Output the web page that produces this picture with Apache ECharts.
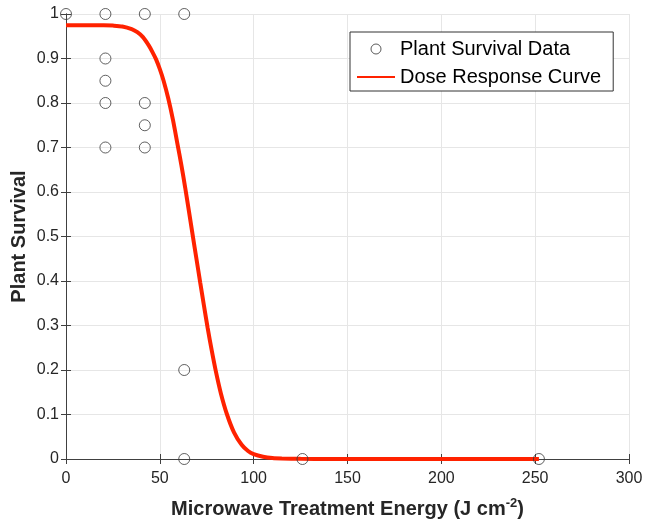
<!DOCTYPE html>
<html>
<head>
<meta charset="utf-8">
<script src="https://cdn.jsdelivr.net/npm/echarts@6/dist/echarts.min.js"></script>
<style>html,body{margin:0;padding:0;background:#fff;}#c{width:645px;height:524px;}</style>
</head>
<body>
<div id="c"></div>
<script>
// Observed plant survival data [energy, survival]
const surveyEnergy = [0, 21, 21, 21, 21, 21, 42, 42, 42, 42, 63, 63, 63, 126, 252];
const surveySurvival = [1, 1, 0.9, 0.85, 0.8, 0.7, 1, 0.8, 0.75, 0.7, 1, 0.2, 0, 0, 0];
// Dose response curve points
const curveEnergy = [0, 10, 20, 25, 30, 35, 38, 41, 44, 46, 48, 50, 52, 54.5, 57, 59.3, 61.5, 63.5, 65.5, 67.5, 69.5, 71.5, 73.5, 75.5, 77.6, 79.8, 82.5, 85.8, 89.5, 93.6, 97, 100, 105, 110, 115, 125, 140, 200, 252];
const curveSurvival = [0.975, 0.975, 0.975, 0.974, 0.972, 0.966, 0.959, 0.948, 0.930, 0.915, 0.898, 0.876, 0.850, 0.810, 0.762, 0.710, 0.660, 0.610, 0.557, 0.503, 0.450, 0.397, 0.345, 0.294, 0.245, 0.198, 0.148, 0.100, 0.060, 0.032, 0.018, 0.011, 0.005, 0.002, 0.001, 0.0003, 0, 0, 0];
const xTicks = [0, 50, 100, 150, 200, 250, 300];
const yTicks = [0, 0.1, 0.2, 0.3, 0.4, 0.5, 0.6, 0.7, 0.8, 0.9, 1];

const scatterData = surveyEnergy.map((x, i) => [x, surveySurvival[i]]);
const curveData = curveEnergy.map((x, i) => [x, curveSurvival[i]]);
const axisColor = '#262626';
const lineColor = '#404040';
const font = "'Liberation Sans', Arial, Helvetica, sans-serif";

const chart = echarts.init(document.getElementById('c'), null, {renderer: 'canvas'});
const xBase = {
  type: 'value', min: xTicks[0], max: xTicks[xTicks.length - 1], interval: 50,
  axisLine: {lineStyle: {color: lineColor, width: 1}},
  axisTick: {inside: true, length: 5, lineStyle: {color: lineColor}},
};
const yBase = {
  type: 'value', min: yTicks[0], max: yTicks[yTicks.length - 1], interval: 0.1,
  axisLine: {lineStyle: {color: lineColor, width: 1}},
  axisTick: {inside: true, length: 5, lineStyle: {color: lineColor}},
};
chart.setOption({
  animation: false,
  textStyle: {fontFamily: font},
  grid: {left: 66, right: 16, top: 14, bottom: 65, containLabel: false, outerBoundsMode: 'none'},
  legend: {
    orient: 'vertical', left: 350, top: 32,
    backgroundColor: '#fff', borderColor: '#333', borderWidth: 1,
    padding: [7, 12, 4, 6], itemGap: 8, itemWidth: 38, itemHeight: 10,
    textStyle: {fontSize: 20, color: '#000', fontFamily: font},
    data: [
      {name: 'Plant Survival Data', icon: 'circle', itemStyle: {color: 'rgba(255,255,255,0)', borderColor: '#333', borderWidth: 1}},
      {name: 'Dose Response Curve', itemStyle: {opacity: 0}}
    ]
  },
  xAxis: [
    Object.assign({}, xBase, {
      position: 'bottom',
      axisLabel: {color: axisColor, fontSize: 16, margin: 12, formatter: v => String(v)},
      splitLine: {show: true, lineStyle: {color: '#e6e6e6'}},
      name: 'Microwave Treatment Energy (J cm{sup|-2})',
      nameLocation: 'middle', nameGap: 38, nameMoveOverlap: false,
      nameTextStyle: {
        fontSize: 20, fontWeight: 'bold', color: axisColor, fontFamily: font,
        rich: {sup: {fontSize: 13, fontWeight: 'bold', verticalAlign: 'top', color: axisColor, fontFamily: font, padding: [0, 0, 11, 0]}}
      }
    }),
    Object.assign({}, xBase, {position: 'top', axisLabel: {show: false}, splitLine: {show: false}})
  ],
  yAxis: [
    Object.assign({}, yBase, {
      position: 'left',
      axisLabel: {color: axisColor, fontSize: 16, margin: 7, formatter: v => (v === 0 ? '0' : v === 1 ? '1' : v.toFixed(1))},
      splitLine: {show: true, lineStyle: {color: '#e6e6e6'}},
      name: 'Plant Survival', nameLocation: 'middle', nameGap: 37, nameMoveOverlap: false,
      nameTextStyle: {fontSize: 20, fontWeight: 'bold', color: axisColor, fontFamily: font}
    }),
    Object.assign({}, yBase, {position: 'right', axisLabel: {show: false}, splitLine: {show: false}})
  ],
  series: [
    {
      name: 'Plant Survival Data', type: 'scatter', data: scatterData,
      symbol: 'circle', symbolSize: 11, clip: false,
      itemStyle: {color: 'rgba(255,255,255,0)', borderColor: '#3a3a3a', borderWidth: 1},
      z: 3
    },
    {
      name: 'Dose Response Curve', type: 'line', data: curveData,
      smooth: 0.25, showSymbol: false, symbol: 'none',
      lineStyle: {color: '#ff2200', width: 4},
      itemStyle: {color: '#ff2200'},
      z: 2
    }
  ]
});
</script>
</body>
</html>
